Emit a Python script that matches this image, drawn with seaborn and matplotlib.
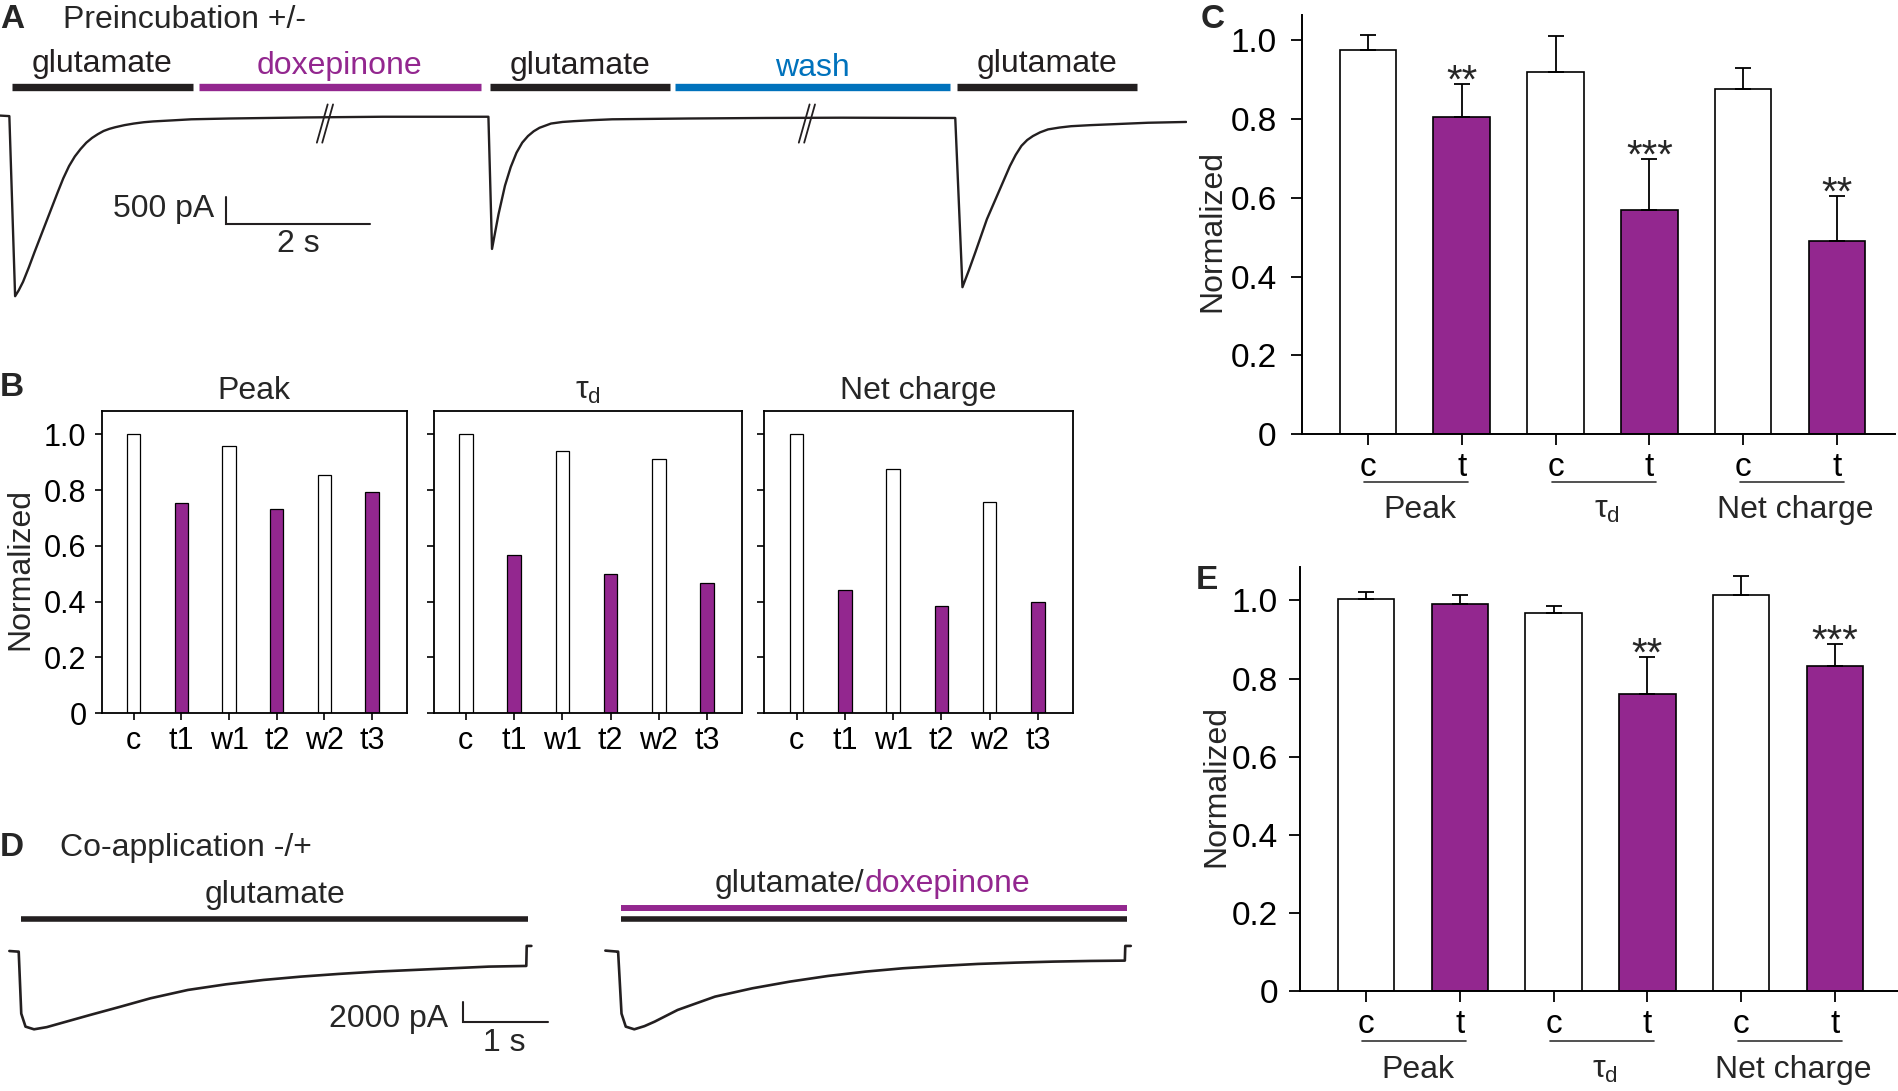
import numpy as np
import pandas as pd
import matplotlib
matplotlib.use("Agg")
import matplotlib.pyplot as plt
import matplotlib.transforms as mtransforms
import seaborn as sns

# ---------------------------------------------------------------- data
PURPLE = "#93278F"
BLUE = "#0072BC"
INK = "#231F20"

# Panel A: application periods (s) and labels
a_app_labels = ["glutamate", "doxepinone", "glutamate", "wash", "glutamate"]
a_app_start = [0.16, 2.77, 6.81, 9.39, 13.30]
a_app_end = [2.68, 6.68, 9.32, 13.21, 15.80]
a_app_colors = [INK, PURPLE, INK, BLUE, INK]
a_label_y = [0.9337, 0.9325, 0.9325, 0.9306, 0.9337]
a_breaks = [4.52, 11.22]

# Panel A current trace (time s, current pA)
a_trace_t = [0.00, 0.13, 0.21, 0.26, 0.32, 0.40, 0.48, 0.56, 0.64, 0.72, 0.80,
             0.88, 0.96, 1.04, 1.12, 1.20, 1.28, 1.36, 1.44, 1.52,
             1.60, 1.73, 1.86, 2.00, 2.13, 2.40, 2.66, 3.19, 4.26, 5.32, 6.38, 6.77,
             6.79, 6.84, 6.93, 7.02, 7.10, 7.18, 7.26, 7.34, 7.42, 7.50, 7.66,
             7.82, 7.98, 8.25, 8.51, 9.57, 10.64, 11.70, 13.28,
             13.38, 13.47, 13.56, 13.64, 13.72, 13.80, 13.88, 13.96, 14.04, 14.12,
             14.20, 14.28, 14.36, 14.46, 14.57, 14.73, 14.89, 15.16,
             15.43, 15.96, 16.49]
a_trace_i = [10, 0, -3390, -3280, -3120, -2850, -2560, -2280, -2000, -1720, -1440,
             -1170, -940, -760, -620, -500, -410, -340, -280, -240,
             -210, -170, -140, -115, -100, -80, -60, -45, -25, -12, -12, -12,
             -12, -2500, -1850, -1310, -960, -690, -500, -375, -285, -220, -140,
             -110, -95, -75, -60, -45, -35, -30, -35,
             -3220, -2900, -2560, -2250, -1940, -1690, -1440, -1190, -940, -730,
             -560, -450, -375, -305, -250, -215, -190, -170,
             -155, -125, -110]

# Panel B
b_conditions = ["c", "t1", "w1", "t2", "w2", "t3"]
b_titles = ["Peak", r"$\mathrm{\tau}_\mathrm{d}$", "Net charge"]
b_peak = [1.000, 0.752, 0.957, 0.734, 0.854, 0.794]
b_tau = [1.000, 0.566, 0.940, 0.499, 0.910, 0.467]
b_net = [1.000, 0.440, 0.875, 0.385, 0.758, 0.397]

# Panels C and E
ce_groups = ["Peak", r"$\mathrm{\tau}_\mathrm{d}$", "Net charge"]
ce_cond = ["c", "t", "c", "t", "c", "t"]
c_mean = [0.975, 0.806, 0.920, 0.570, 0.876, 0.490]
c_sem = [0.039, 0.084, 0.090, 0.128, 0.054, 0.114]
c_stars = ["", "**", "", "***", "", "**"]
e_mean = [1.003, 0.991, 0.968, 0.761, 1.013, 0.833]
e_sem = [0.019, 0.022, 0.018, 0.094, 0.051, 0.055]
e_stars = ["", "", "", "**", "", "***"]

# Panel D traces (time s, current pA)
d_trace1_t = [0.11, 0.21, 0.22, 0.25, 0.30, 0.40, 0.55, 0.71, 1.06, 1.42, 1.77,
              2.21, 2.66, 3.10, 3.54, 3.98, 4.43, 4.87, 5.31, 5.75, 6.19,
              6.195, 6.25]
d_trace1_i = [60, 0, 0, -6200, -7500, -7767, -7550, -7167, -6333, -5500, -4667,
              -3833, -3267, -2833, -2500, -2233, -2000, -1833, -1667, -1500, -1433,
              567, 567]
d_trace2_t = [7.12, 7.26, 7.27, 7.31, 7.36, 7.46, 7.58, 7.70, 7.97, 8.41, 8.85,
              9.29, 9.74, 10.18, 10.62, 11.06, 11.50, 11.95, 12.39, 12.83, 13.23,
              13.235, 13.30]
d_trace2_i = [100, 0, 0, -6200, -7500, -7767, -7450, -7000, -5833, -4500, -3667,
              -3000, -2433, -2000, -1667, -1433, -1233, -1100, -1000, -933, -900,
              567, 567]
d_app1 = (0.25, 6.21)
d_app2 = (7.30, 13.26)

# ---------------------------------------------------------------- style
sns.set_style("white")
plt.rcParams["font.family"] = ["Liberation Sans", "DejaVu Sans"]
plt.rcParams["mathtext.fontset"] = "custom"
plt.rcParams["mathtext.rm"] = "Liberation Sans"
plt.rcParams["mathtext.it"] = "Liberation Sans:italic"
plt.rcParams["axes.linewidth"] = 1.4
FS = 23

fig = plt.figure(figsize=(18.99, 10.91), dpi=100)
fig.patch.set_facecolor("white")

# ---------------------------------------------------------------- panel A
axA = fig.add_axes([0.0, 0.7225, 0.625, 0.1776])
sns.lineplot(x=a_trace_t, y=a_trace_i, sort=False, estimator=None,
             color=INK, lw=1.7, ax=axA)
axA.set_xlim(0, 16.5)
axA.set_ylim(-3513, 134)
axA.axis("off")
transA = mtransforms.blended_transform_factory(axA.transData, fig.transFigure)
for lab, s, e, col, ly in zip(a_app_labels, a_app_start, a_app_end,
                              a_app_colors, a_label_y):
    axA.plot([s, e], [0.920, 0.920], transform=transA, color=col, lw=5.3,
             solid_capstyle="butt", clip_on=False)
    axA.text((s + e) / 2, ly, lab, transform=transA, ha="center",
             va="baseline", fontsize=FS, color=col)
for b in a_breaks:
    for dx in (-0.04, 0.035):
        axA.plot([b + dx - 0.075, b + dx + 0.075], [-500, 220], color=INK,
                 lw=1.3, clip_on=False)
# scale bar 500 pA / 2 s
axA.plot([3.14, 3.14, 5.14], [-1531, -2031, -2031], color=INK, lw=1.5,
         solid_joinstyle="miter")
axA.text(2.98, -1750, "500 pA", ha="right", va="center", fontsize=FS)
axA.text(4.15, -2406, "2 s", ha="center", va="center", fontsize=FS)
fig.text(0.0, 0.974, "A", fontsize=24, fontweight="bold", ha="left",
         va="baseline")
fig.text(0.0331, 0.974, "Preincubation +/-", fontsize=FS, ha="left",
         va="baseline")

# ---------------------------------------------------------------- panel B
b_colors = ["white", PURPLE, "white", PURPLE, "white", PURPLE]
b_lefts = [0.0536, 0.2283, 0.4024]
b_widths = [0.1607, 0.1626, 0.1627]
for k, (vals, title) in enumerate(zip([b_peak, b_tau, b_net], b_titles)):
    ax = fig.add_axes([b_lefts[k], 0.3463, b_widths[k], 0.2768])
    dfb = pd.DataFrame({"cond": b_conditions, "value": vals})
    sns.barplot(data=dfb, x="cond", y="value", hue="cond", palette=b_colors,
                legend=False, width=0.28, edgecolor="black", linewidth=0.9,
                errorbar=None, saturation=1, ax=ax)
    ax.set_xlim(-0.67, 5.73)
    ax.set_ylim(0, 1.083)
    ax.set_yticks([0, 0.2, 0.4, 0.6, 0.8, 1.0])
    if k == 0:
        ax.set_yticklabels(["0", "0.2", "0.4", "0.6", "0.8", "1.0"])
    else:
        ax.set_yticklabels([])
    ax.set_xlabel("")
    ax.set_ylabel("")
    for sp in ax.spines.values():
        sp.set_visible(True)
        sp.set_linewidth(1.3)
        sp.set_color("black")
    ax.tick_params(axis="both", direction="out", length=5, width=1.2,
                   labelsize=22, bottom=True, left=True, colors="black")
    ax.tick_params(axis="x", pad=4)
    ax.tick_params(axis="y", pad=6)
    ax.set_title(title, fontsize=FS, pad=9)
fig.text(0.0, 0.6367, "B", fontsize=24, fontweight="bold", ha="left",
         va="baseline")
fig.text(0.0105, 0.4787, "Normalized", fontsize=FS, rotation=90,
         ha="center", va="center")


# ---------------------------------------------------------------- panels C/E
def summary_panel(rect, xlim, ylim, means, sems, stars, uline_y, glabel_y,
                  ylab_xy, letter, letter_xy, ypad):
    ax = fig.add_axes(rect)
    ids = [f"{g}|{c}" for g in ["peak", "tau", "net"] for c in ["c", "t"]]
    df = pd.DataFrame({"bar": ids, "value": means})
    sns.barplot(data=df, x="bar", y="value", hue="bar",
                palette=["white", PURPLE] * 3, legend=False, width=0.6,
                edgecolor="black", linewidth=1.2, errorbar=None,
                saturation=1, ax=ax)
    xs = np.arange(len(means))
    ax.errorbar(xs, means, yerr=[np.zeros(len(means)), sems], fmt="none",
                ecolor="black", elinewidth=1.3, capsize=5.5, capthick=1.3,
                zorder=1)
    for x, m, s, st in zip(xs, means, sems, stars):
        if st:
            ax.text(x, m + s - 0.022, st, ha="center", va="baseline",
                    fontsize=29)
    ax.set_xlim(*xlim)
    ax.set_ylim(*ylim)
    ax.set_xticks(xs)
    ax.set_xticklabels(ce_cond)
    ax.set_yticks([0, 0.2, 0.4, 0.6, 0.8, 1.0])
    ax.set_yticklabels(["0", "0.2", "0.4", "0.6", "0.8", "1.0"])
    ax.set_xlabel("")
    ax.set_ylabel("")
    sns.despine(ax=ax)
    for sp in ("left", "bottom"):
        ax.spines[sp].set_linewidth(1.4)
        ax.spines[sp].set_color("black")
    ax.tick_params(axis="both", direction="out", length=8, width=1.3,
                   labelsize=24, bottom=True, left=True, colors="black")
    ax.tick_params(axis="x", pad=5)
    ax.tick_params(axis="y", pad=ypad)
    tr = mtransforms.blended_transform_factory(ax.transData, fig.transFigure)
    for gi, g in enumerate(ce_groups):
        xc, xt = 2 * gi, 2 * gi + 1
        ax.plot([xc - 0.04, xt + 0.07], [uline_y, uline_y], transform=tr,
                color="#333333", lw=1.2, clip_on=False)
        ax.text((xc + xt) / 2 + 0.05, glabel_y, g, transform=tr, ha="center",
                va="baseline", fontsize=FS)
    fig.text(ylab_xy[0], ylab_xy[1], "Normalized", fontsize=FS, rotation=90,
             ha="center", va="center")
    fig.text(letter_xy[0], letter_xy[1], letter, fontsize=24,
             fontweight="bold", ha="left", va="baseline")
    return ax


summary_panel([0.6854, 0.6022, 0.3127, 0.3836], (-0.705, 5.62), (0, 1.063),
              c_mean, c_sem, c_stars, 0.5583, 0.525, (0.6383, 0.7885), "C",
              (0.6323, 0.9747), 10)
summary_panel([0.6847, 0.0919, 0.3153, 0.3881], (-0.70, 5.68), (0, 1.085),
              e_mean, e_sem, e_stars, 0.0462, 0.0123, (0.6407, 0.2797), "E",
              (0.6299, 0.46), 8)

# ---------------------------------------------------------------- panel D
axD = fig.add_axes([0.0, 0.0344, 0.5995, 0.1165])
sns.lineplot(x=d_trace1_t, y=d_trace1_i, sort=False, estimator=None,
             color=INK, lw=1.9, ax=axD)
sns.lineplot(x=d_trace2_t, y=d_trace2_i, sort=False, estimator=None,
             color=INK, lw=1.9, ax=axD)
axD.set_xlim(0, 13.39)
axD.set_ylim(-10183, 2523)
axD.axis("off")
transD = mtransforms.blended_transform_factory(axD.transData, fig.transFigure)
axD.plot(list(d_app1), [0.1577, 0.1577], transform=transD, color=INK, lw=4,
         solid_capstyle="butt", clip_on=False)
axD.plot(list(d_app2), [0.1577, 0.1577], transform=transD, color=INK, lw=4,
         solid_capstyle="butt", clip_on=False)
axD.plot(list(d_app2), [0.1678, 0.1678], transform=transD, color=PURPLE,
         lw=4.3, solid_capstyle="butt", clip_on=False)
axD.text(sum(d_app1) / 2, 0.1721, "glutamate", transform=transD,
         ha="center", va="baseline", fontsize=FS)
t1 = axD.text(10.17, 0.1828, "glutamate/", transform=transD, ha="right",
              va="baseline", fontsize=FS)
axD.annotate("doxepinone", xy=(1, 0), xycoords=t1, ha="left", va="bottom",
             fontsize=FS, color=PURPLE)
# scale bar 2000 pA / 1 s
axD.plot([5.44, 5.44, 6.44], [-5000, -7000, -7000], color=INK, lw=1.5,
         solid_joinstyle="miter")
axD.text(5.27, -6700, "2000 pA", ha="right", va="center", fontsize=FS)
axD.text(5.93, -9167, "1 s", ha="center", va="center", fontsize=FS)
fig.text(0.0, 0.2155, "D", fontsize=24, fontweight="bold", ha="left",
         va="baseline")
fig.text(0.0317, 0.2155, "Co-application -/+", fontsize=FS, ha="left",
         va="baseline")

fig.savefig("out.png", dpi=100, facecolor="white")
